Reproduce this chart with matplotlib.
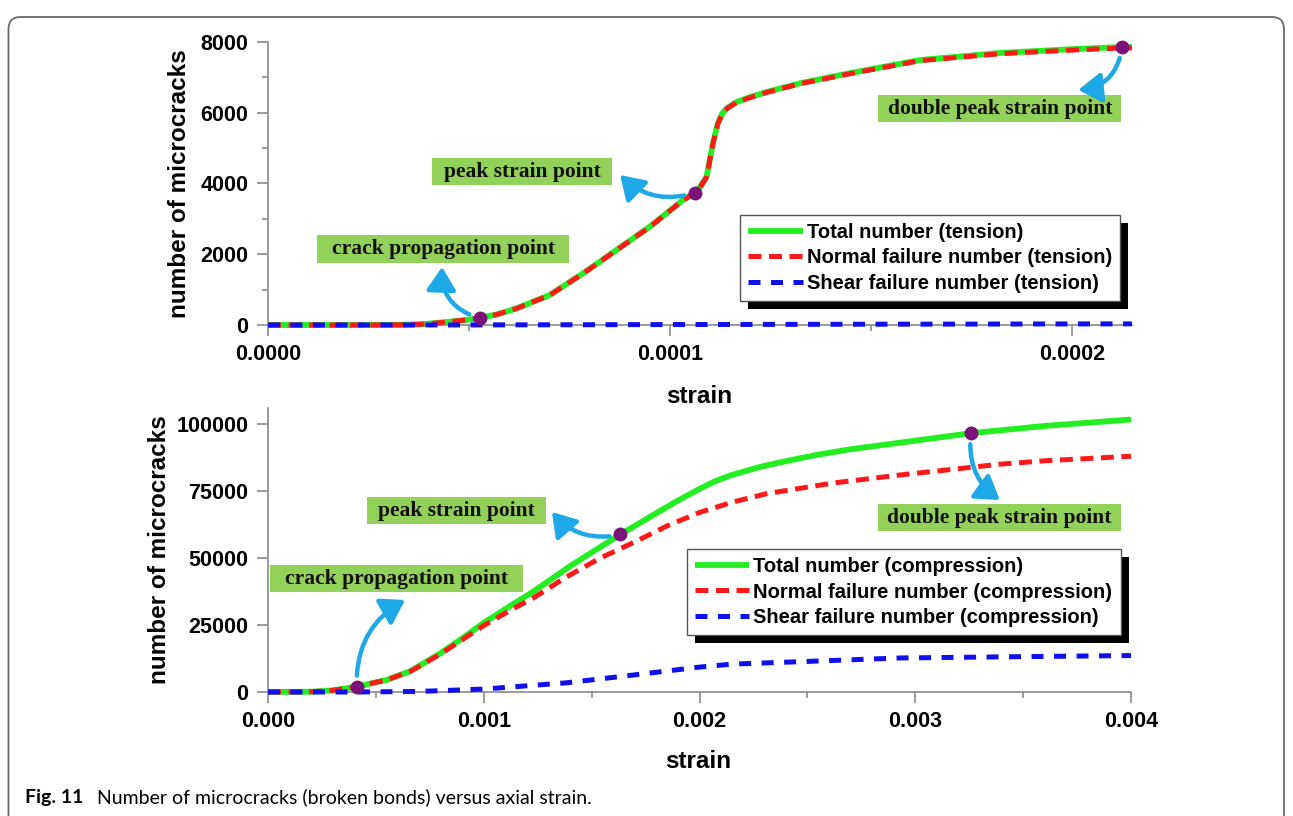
import matplotlib
matplotlib.use("Agg")
import matplotlib.pyplot as plt
from matplotlib.patches import Rectangle, FancyBboxPatch
from matplotlib.ticker import MultipleLocator, FormatStrFormatter
from matplotlib.transforms import IdentityTransform

# ---------------- tension test ----------------
ten_strain = [0.0, 2.0e-5, 3.3e-5, 3.8e-5, 4.1e-5, 4.5e-5, 4.9e-5, 5.27e-5,
              5.7e-5, 6.19e-5, 7.01e-5, 7.84e-5, 8.67e-5, 9.50e-5, 1.032e-4,
              1.062e-4, 1.075e-4, 1.091e-4, 1.107e-4, 1.119e-4, 1.13e-4,
              1.142e-4, 1.165e-4, 1.199e-4, 1.241e-4, 1.326e-4, 1.448e-4,
              1.622e-4, 1.821e-4, 1.988e-4, 2.124e-4, 2.149e-4]
ten_total = [0, 0, 5, 20, 48, 90, 140, 200,
             300, 472, 848, 1461, 2120, 2780, 3530,
             3740, 3900, 4190, 5140, 5700, 5980,
             6130, 6300, 6440, 6590, 6840, 7120,
             7490, 7690, 7790, 7860, 7860]
ten_normal = [0, 0, 5, 20, 48, 90, 140, 200,
              300, 470, 845, 1457, 2115, 2774, 3522,
              3732, 3891, 4181, 5130, 5690, 5970,
              6120, 6290, 6428, 6577, 6826, 7104,
              7472, 7668, 7765, 7832, 7830]
ten_shear_strain = [0.0, 5.0e-5, 1.0e-4, 1.5e-4, 2.0e-4, 2.149e-4]
ten_shear = [0, 2, 12, 22, 30, 32]
ten_key_strain = [5.27e-5, 1.062e-4, 2.124e-4]
ten_key_count = [200, 3740, 7860]

# ---------------- compression test ----------------
com_strain = [0.0, 0.0002, 0.0003, 0.000411, 0.00055, 0.00066, 0.0008,
              0.0009, 0.001, 0.00113, 0.00123, 0.00141, 0.001633, 0.00178,
              0.00189, 0.002, 0.00207, 0.00215, 0.00228, 0.00239, 0.00255,
              0.0027, 0.003, 0.003259, 0.0036, 0.004]
com_total = [0, 100, 600, 2000, 4500, 7800, 14500,
             20000, 25800, 32500, 37500, 47500, 58800, 65800,
             71000, 75800, 78600, 81000, 84000, 86000, 88600,
             90600, 93800, 96600, 99300, 101700]
com_normal_strain = [0.0, 0.0002, 0.0003, 0.000411, 0.00055, 0.00066, 0.0008,
                     0.0009, 0.001, 0.00113, 0.00123, 0.00138, 0.00154,
                     0.0017, 0.00185, 0.002, 0.00215, 0.00231, 0.00262,
                     0.00293, 0.00339, 0.0036, 0.004]
com_normal = [0, 100, 600, 2000, 4500, 7700, 14200,
              19500, 24800, 30800, 35100, 42800, 50000,
              56000, 62000, 67000, 70800, 74000, 78000,
              81000, 85000, 86300, 88000]
com_shear_strain = [0.0, 0.0004, 0.0007, 0.001, 0.00138, 0.00169, 0.002,
                    0.00215, 0.00246, 0.00293, 0.0035, 0.004]
com_shear = [0, 0, 200, 1100, 3400, 6300, 9300, 10400, 11300, 12700, 13200, 13600]
com_key_strain = [0.000411, 0.001633, 0.003259]
com_key_count = [2000, 58800, 96600]

ten_labels = ["Total number (tension)", "Normal failure number (tension)",
              "Shear failure number (tension)"]
com_labels = ["Total number (compression)", "Normal failure number (compression)",
              "Shear failure number (compression)"]
point_names = ["crack propagation point", "peak strain point", "double peak strain point"]

GREEN = "#22ee22"
RED = "#ff1a1a"
BLUE = "#1010ee"
PURPLE = "#7a127a"
ARROW = "#1fa8e8"
BOXC = "#94d15a"
SPINE = "#8a8a8a"

W, H = 1293, 816
fig = plt.figure(figsize=(W / 100, H / 100), dpi=100)

SANS = "Liberation Sans"
SERIF = "Liberation Serif"


def px_axes(left, right, top, bottom):
    return [left / W, 1 - bottom / H, (right - left) / W, (bottom - top) / H]


ax1 = fig.add_axes(px_axes(268, 1132.3, 42, 325))
ax2 = fig.add_axes(px_axes(268, 1131, 408, 692))


def style_axes(ax):
    for s in ("top", "right"):
        ax.spines[s].set_visible(False)
    for s in ("left", "bottom"):
        ax.spines[s].set_color(SPINE)
        ax.spines[s].set_linewidth(1.2)
    ax.tick_params(which="major", direction="out", length=8, width=1.2,
                   color=SPINE, pad=6, labelsize=15.5)
    ax.tick_params(which="minor", direction="out", length=4, width=1.2,
                   color=SPINE)
    for lab in ax.get_xticklabels() + ax.get_yticklabels():
        lab.set_fontfamily(SANS)
        lab.set_fontweight("bold")


def draw_series(ax, xs_total, total, xs_normal, normal, xs_shear, shear, labels):
    l1, = ax.plot(xs_total, total, color=GREEN, lw=4.2, solid_capstyle="butt",
                  clip_on=False, zorder=3, label=labels[0])
    l2, = ax.plot(xs_normal, normal, color=RED, lw=3.6, ls=(0, (2.6, 1.5)),
                  clip_on=False, zorder=4, label=labels[1])
    l3, = ax.plot(xs_shear, shear, color=BLUE, lw=3.6, ls=(0, (2.4, 2.1)),
                  clip_on=False, zorder=4, label=labels[2])
    return [l1, l2, l3]


def label_box(ax, cx, cy, w, h, text):
    ax.add_patch(Rectangle((cx - w / 2, cy - h / 2), w, h, transform=ax.transAxes,
                           facecolor=BOXC, edgecolor="none", clip_on=False, zorder=6))
    ax.text(cx, cy, text, transform=ax.transAxes, ha="center", va="center",
            fontfamily=SERIF, fontweight="bold", fontsize=15.5, color="#111111",
            zorder=7)


def curved_arrow(ax, start, tip, rad):
    ax.annotate("", xy=tip, xycoords="axes fraction", xytext=start, textcoords="data",
                arrowprops=dict(arrowstyle="-|>,head_length=0.7,head_width=0.45",
                                color=ARROW, lw=3.2, shrinkA=8, shrinkB=0,
                                mutation_scale=20,
                                connectionstyle=f"arc3,rad={rad}"),
                zorder=6, annotation_clip=False)


# ---------- top panel: tension ----------
h1 = draw_series(ax1, ten_strain, ten_total, ten_strain, ten_normal,
                 ten_shear_strain, ten_shear, ten_labels)
ax1.plot(ten_key_strain, ten_key_count, "o", color=PURPLE, ms=9, zorder=5,
         clip_on=False)
ax1.set_xlim(0, 0.000215)
ax1.set_ylim(0, 8000)
ax1.xaxis.set_major_locator(MultipleLocator(0.0001))
ax1.xaxis.set_minor_locator(MultipleLocator(0.00005))
ax1.yaxis.set_major_locator(MultipleLocator(2000))
ax1.yaxis.set_minor_locator(MultipleLocator(1000))
ax1.xaxis.set_major_formatter(FormatStrFormatter("%.4f"))
ax1.yaxis.set_major_formatter(FormatStrFormatter("%d"))
style_axes(ax1)

# ---------- bottom panel: compression ----------
h2 = draw_series(ax2, com_strain, com_total, com_normal_strain, com_normal,
                 com_shear_strain, com_shear, com_labels)
ax2.plot(com_key_strain, com_key_count, "o", color=PURPLE, ms=9, zorder=5,
         clip_on=False)
ax2.set_xlim(0, 0.004)
ax2.set_ylim(0, 106000)
ax2.xaxis.set_major_locator(MultipleLocator(0.001))
ax2.xaxis.set_minor_locator(MultipleLocator(0.0005))
ax2.yaxis.set_major_locator(MultipleLocator(25000))
ax2.xaxis.set_major_formatter(FormatStrFormatter("%.3f"))
ax2.yaxis.set_major_formatter(FormatStrFormatter("%d"))
style_axes(ax2)

# axis titles
for ax, xl_y, yl_x in ((ax1, -0.254, -0.102), (ax2, -0.246, -0.1257)):
    ax.set_xlabel("strain", fontfamily=SANS, fontweight="bold", fontsize=17.5)
    ax.set_ylabel("number of microcracks", fontfamily=SANS, fontweight="bold",
                  fontsize=17.5)
    ax.xaxis.set_label_coords(0.499, xl_y)
    ax.xaxis.label.set_verticalalignment("center")
    ax.yaxis.set_label_coords(yl_x, 0.5)
    ax.yaxis.label.set_verticalalignment("center")

# point labels and arrows (tension)
label_box(ax1, 0.2025, 0.2686, 252 / 864, 28 / 283, point_names[0])
label_box(ax1, 0.2940, 0.5420, 180 / 864, 27 / 283, point_names[1])
label_box(ax1, 0.8466, 0.7650, 243 / 864, 27 / 283, point_names[2])
curved_arrow(ax1, (ten_key_strain[0], ten_key_count[0]), (0.2014, 0.205), -0.4)
curved_arrow(ax1, (ten_key_strain[1], ten_key_count[1]), (0.4074, 0.530), -0.3)
curved_arrow(ax1, (ten_key_strain[2], ten_key_count[2]), (0.9375, 0.8304), -0.4)

# point labels and arrows (compression)
label_box(ax2, 0.1489, 0.3996, 253 / 863, 27 / 284, point_names[0])
label_box(ax2, 0.2184, 0.6390, 179 / 863, 27 / 284, point_names[1])
label_box(ax2, 0.8476, 0.6144, 243 / 863, 27 / 284, point_names[2])
curved_arrow(ax2, (com_key_strain[0], com_key_count[0]), (0.1588, 0.324), -0.3)
curved_arrow(ax2, (com_key_strain[1], com_key_count[1]), (0.329, 0.634), -0.3)
curved_arrow(ax2, (com_key_strain[2], com_key_count[2]), (0.848, 0.676), 0.3)

# legends with a solid drop shadow
legend_font = dict(family=SANS, weight="bold", size=14.5)
legends = []
for ax, handles, anchor in ((ax1, h1, (0.5463, 0.3887)), (ax2, h2, (0.4855, 0.5035))):
    leg = ax.legend(handles=handles, loc="upper left", bbox_to_anchor=anchor,
                    borderaxespad=0, prop=legend_font, handlelength=2.7,
                    handletextpad=0.2, labelspacing=0.32, borderpad=0.4,
                    fancybox=False, framealpha=1, edgecolor="#555555")
    leg.get_frame().set_linewidth(1.0)
    leg.set_zorder(8)
    legends.append((ax, leg))

fig.canvas.draw()
for ax, leg in legends:
    bb = leg.get_window_extent()
    ax.add_artist(Rectangle((bb.x0 + 8, bb.y0 - 8), bb.width, bb.height,
                            transform=IdentityTransform(), facecolor="black",
                            edgecolor="none", zorder=7.9, clip_on=False))

# outer frame
fig.add_artist(FancyBboxPatch((8.5, -30), W - 17.5, H - 8.5 + 30 - 8.5,
                              boxstyle="round,pad=0,rounding_size=12",
                              transform=IdentityTransform(), facecolor="none",
                              edgecolor="#6a6a6a", lw=1.3, zorder=0))

# caption
fig.text(25 / W, 1 - 797 / H, "Fig. 11", fontfamily="Lato", fontweight="bold",
         fontsize=14, va="center", ha="left")
fig.text(97 / W, 1 - 797 / H,
         "Number of microcracks (broken bonds) versus axial strain.",
         fontfamily="Lato", fontsize=14, va="center", ha="left")

fig.savefig("out.png", dpi=100)
